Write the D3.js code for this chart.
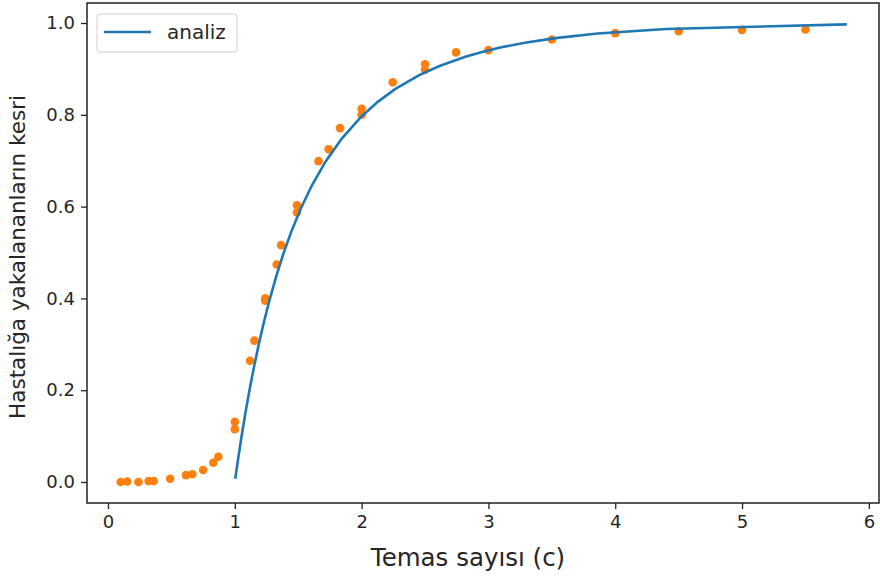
<!DOCTYPE html>
<html><head><meta charset="utf-8">
<script src="https://cdn.jsdelivr.net/npm/d3@7"></script>
<style>body{margin:0;background:#fff}svg{display:block}text{font-family:"DejaVu Sans",sans-serif;fill:#262626}</style>
</head><body><svg id="chart" width="880" height="578"></svg>
<script>
// analytic curve (c, fraction)
const lineC = [1.0035,1.0137,1.0296,1.0519,1.0816,1.1137,1.1486,1.1865,1.2282,1.2742,1.3253,1.3826,1.4476,1.5223,1.6094,1.7131,1.8399,2.0007,2.1215,2.2694,2.4582,2.6187,2.8234,2.9505,3.1018,3.2879,3.5277,3.8611,4.4000,5.8266];
const lineR = [0.007,0.027,0.057,0.097,0.147,0.197,0.247,0.297,0.347,0.397,0.447,0.497,0.547,0.597,0.647,0.697,0.747,0.797,0.827,0.857,0.887,0.907,0.927,0.937,0.947,0.957,0.967,0.977,0.987,0.997];
// simulation dots
const dotC = [0.10,0.15,0.24,0.32,0.36,0.49,0.615,0.665,0.75,0.83,0.87,1.0,1.0,1.12,1.155,1.24,1.24,1.33,1.365,1.49,1.49,1.66,1.74,1.83,2.0,2.0,2.245,2.5,2.5,2.745,3.0,3.5,4.0,4.5,5.0,5.5];
const dotR = [0.0,0.001,0.0,0.002,0.002,0.007,0.015,0.017,0.026,0.042,0.055,0.131,0.115,0.264,0.308,0.400,0.395,0.474,0.516,0.603,0.587,0.699,0.725,0.771,0.813,0.800,0.871,0.910,0.898,0.936,0.941,0.964,0.978,0.982,0.985,0.986];
const xTicks = [0,1,2,3,4,5,6];
const yTicks = [0,0.2,0.4,0.6,0.8,1.0];
const xLabel = "Temas sayısı (c)";
const yLabel = "Hastalığa yakalananların kesri";
const legendLabel = "analiz";

const svg = d3.select("#chart");
const L = 87, R = 879, T = 3, B = 503;
const x = d3.scaleLinear().domain([-0.1656, 6.080]).range([L, R]);
const y = d3.scaleLinear().domain([-0.04575, 1.0436]).range([B, T]);

const blue = "#1f77b4", orange = "#ff7f0e";

// data
svg.append("g").selectAll("circle").data(dotC.map((c,i)=>[c,dotR[i]])).join("circle")
  .attr("cx", d=>x(d[0])).attr("cy", d=>y(d[1])).attr("r", 4.3).attr("fill", orange);
svg.append("path").datum(lineC.map((c,i)=>[c,lineR[i]]))
  .attr("d", d3.line().x(d=>x(d[0])).y(d=>y(d[1])))
  .attr("fill","none").attr("stroke", blue).attr("stroke-width", 2.6).attr("stroke-linejoin","round");

// axes
const xAxis = svg.append("g").attr("transform", `translate(0,${B})`)
  .call(d3.axisBottom(x).tickValues(xTicks).tickFormat(d3.format("d")).tickSize(6).tickPadding(6));
const yAxis = svg.append("g").attr("transform", `translate(${L},0)`)
  .call(d3.axisLeft(y).tickValues(yTicks).tickFormat(d3.format(".1f")).tickSize(6).tickPadding(6));
[xAxis,yAxis].forEach(a=>{
  a.select(".domain").remove();
  a.selectAll(".tick line").attr("stroke","#222").attr("stroke-width",1.3);
  a.selectAll(".tick text").attr("font-size",18).attr("fill","#262626").attr("font-family","DejaVu Sans");
});
// spines
svg.append("rect").attr("x",L).attr("y",T).attr("width",R-L).attr("height",B-T)
  .attr("fill","none").attr("stroke","#222").attr("stroke-width",1.5);

// labels
svg.append("text").attr("x",468).attr("y",566).attr("text-anchor","middle")
  .attr("font-size",24.5).text(xLabel);
svg.append("text").attr("transform",`translate(25,${(T+B)/2 + 4}) rotate(-90)`).attr("text-anchor","middle")
  .attr("font-size",21.5).text(yLabel);

// legend
const lg = svg.append("g");
lg.append("rect").attr("x",97).attr("y",14).attr("width",140).attr("height",38).attr("rx",3)
  .attr("fill","#fff").attr("fill-opacity",0.8).attr("stroke","#d0d0d0").attr("stroke-width",1);
lg.append("line").attr("x1",104).attr("x2",151).attr("y1",32).attr("y2",32).attr("stroke",blue).attr("stroke-width",2.6);
lg.append("text").attr("x",167).attr("y",39).attr("font-size",20).text(legendLabel);
</script></body></html>
